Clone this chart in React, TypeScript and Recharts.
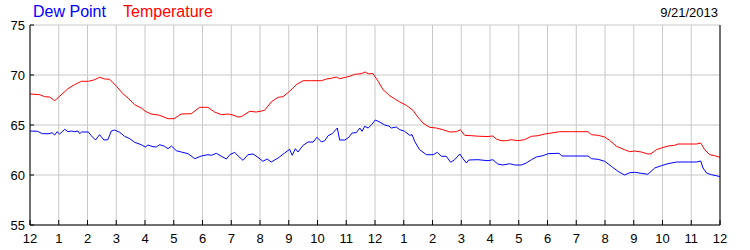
import React from 'react';
import { LineChart, Line, XAxis, YAxis, CartesianGrid } from 'recharts';

// hours since midnight
const tempTimes = [
  0, 0.34, 0.51, 0.68, 0.86, 1.03, 1.32, 1.55, 1.79, 2.03, 2.25, 2.42, 2.6, 2.77, 3.01, 3.23, 3.41, 3.64, 3.87, 4.01,
  4.22, 4.51, 4.8, 5.01, 5.26, 5.61, 5.9, 6.19, 6.42, 6.66, 6.89, 7.06, 7.24, 7.35, 7.64, 7.87, 8.05, 8.16, 8.39, 8.63,
  8.8, 9.03, 9.26, 9.5, 9.79, 10.14, 10.31, 10.48, 10.65, 10.77, 10.97, 11.12, 11.29, 11.52, 11.66, 11.76, 11.93, 12.11,
  12.28, 12.51, 12.68, 12.86, 13.09, 13.32, 13.49, 13.67, 13.9, 14.13, 14.36, 14.6, 14.83, 14.97, 15.12, 15.35, 15.64,
  15.93, 16.1, 16.22, 16.39, 16.57, 16.74, 16.97, 17.2, 17.44, 17.67, 17.9, 18.14, 18.42, 18.83, 19.41, 19.53, 19.76,
  19.99, 20.16, 20.4, 20.68, 20.86, 21.03, 21.26, 21.49, 21.6, 21.79, 21.96, 22.19, 22.42, 22.54, 22.89, 23.18, 23.33,
  23.47, 23.64, 23.82, 24,
];
const tempValues = [
  68.1, 68.03, 67.83, 67.8, 67.43, 67.87, 68.63, 69.03, 69.37, 69.37, 69.53, 69.77, 69.6, 69.57, 68.87, 68.13, 67.7,
  67.03, 66.7, 66.37, 66.1, 65.97, 65.63, 65.63, 66.1, 66.13, 66.77, 66.77, 66.3, 66.03, 66.1, 66.0, 65.8, 65.83, 66.37,
  66.3, 66.4, 66.47, 67.3, 67.77, 67.83, 68.37, 69.03, 69.43, 69.43, 69.43, 69.6, 69.67, 69.8, 69.63, 69.77, 69.87,
  70.07, 70.13, 70.3, 70.13, 70.13, 69.37, 68.53, 67.93, 67.63, 67.3, 66.97, 66.47, 65.8, 65.2, 64.77, 64.7, 64.53,
  64.3, 64.33, 64.53, 63.97, 63.93, 63.87, 63.85, 63.9, 63.6, 63.43, 63.43, 63.53, 63.43, 63.53, 63.87, 63.93, 64.1,
  64.2, 64.33, 64.33, 64.33, 64.03, 63.97, 63.8, 63.47, 62.87, 62.53, 62.33, 62.4, 62.3, 62.1, 62.13, 62.53, 62.7,
  62.9, 62.97, 63.1, 63.1, 63.1, 63.2, 62.53, 62.03, 61.93, 61.77,
];

const dewTimes = [
  0, 0.26, 0.43, 0.66, 0.77, 0.86, 0.94, 1.03, 1.21, 1.32, 1.44, 1.55, 1.67, 1.73, 1.79, 2.03, 2.13, 2.28, 2.42, 2.57,
  2.71, 2.83, 2.94, 3.12, 3.29, 3.47, 3.64, 3.87, 4.01, 4.1, 4.28, 4.39, 4.51, 4.68, 4.8, 4.92, 5.09, 5.26, 5.5, 5.73,
  5.96, 6.19, 6.31, 6.48, 6.66, 6.83, 6.95, 7.12, 7.24, 7.41, 7.58, 7.76, 7.93, 8.1, 8.25, 8.39, 8.63, 8.86, 9.03, 9.12,
  9.23, 9.32, 9.5, 9.67, 9.85, 9.98, 10.14, 10.25, 10.37, 10.51, 10.69, 10.77, 10.95, 11.09, 11.2, 11.35, 11.47, 11.55,
  11.64, 11.76, 11.88, 12.01, 12.16, 12.34, 12.48, 12.57, 12.74, 12.86, 13.03, 13.21, 13.29, 13.38, 13.55, 13.79, 14.02,
  14.17, 14.31, 14.48, 14.63, 14.77, 14.95, 15.06, 15.18, 15.26, 15.58, 15.93, 16.1, 16.27, 16.45, 16.68, 16.86, 17.09,
  17.26, 17.44, 17.61, 17.84, 18.02, 18.4, 18.5, 18.83, 19.41, 19.53, 19.76, 19.99, 20.22, 20.45, 20.68, 20.86, 21.03,
  21.26, 21.49, 21.73, 21.96, 22.19, 22.48, 22.89, 23.18, 23.33, 23.41, 23.53, 23.7, 23.87, 24,
];
const dewValues = [
  64.4, 64.37, 64.13, 64.13, 64.23, 64.0, 64.33, 64.1, 64.57, 64.33, 64.4, 64.33, 64.4, 64.13, 64.3, 64.3, 63.93, 63.5,
  64.03, 63.5, 63.53, 64.4, 64.5, 64.27, 63.87, 63.63, 63.27, 63.03, 62.8, 63.0, 62.83, 62.8, 63.03, 62.87, 62.63, 62.9,
  62.43, 62.3, 62.13, 61.63, 61.9, 62.03, 61.97, 62.17, 61.87, 61.6, 62.03, 62.27, 61.9, 61.47, 62.03, 62.1, 61.77,
  61.37, 61.6, 61.3, 61.7, 62.2, 62.57, 61.97, 62.63, 62.3, 62.97, 63.3, 63.3, 63.77, 63.3, 63.43, 63.93, 64.13, 64.7,
  63.5, 63.5, 63.77, 64.2, 64.23, 64.7, 64.37, 64.87, 64.7, 65.03, 65.5, 65.3, 65.0, 64.9, 64.7, 64.8, 64.53, 64.37,
  63.97, 64.03, 63.37, 62.53, 62.03, 62.03, 62.27, 61.87, 61.87, 61.27, 61.53, 62.1, 61.63, 61.2, 61.5, 61.53, 61.43,
  61.53, 61.1, 61.0, 61.13, 61.0, 61.0, 61.2, 61.53, 61.8, 61.93, 62.13, 62.17, 61.9, 61.9, 61.9, 61.63, 61.57, 61.37,
  60.87, 60.37, 60.0, 60.23, 60.27, 60.17, 60.07, 60.7, 60.93, 61.13, 61.3, 61.3, 61.3, 61.4, 60.7, 60.2, 60.03, 59.93,
  59.83,
];

const hourTicks = [0, 1, 2, 3, 4, 5, 6, 7, 8, 9, 10, 11, 12, 13, 14, 15, 16, 17, 18, 19, 20, 21, 22, 23, 24];
const hourLabels = ['12', '1', '2', '3', '4', '5', '6', '7', '8', '9', '10', '11', '12', '1', '2', '3', '4', '5', '6', '7', '8', '9', '10', '11', '12'];
const tempTicks = [55, 60, 65, 70, 75];
const dateLabel = '9/21/2013';

const tempData = tempTimes.map((t, i) => ({ t, v: tempValues[i] }));
const dewData = dewTimes.map((t, i) => ({ t, v: dewValues[i] }));

const FONT = '"Liberation Sans", Arial, sans-serif';

// ticks point into the plot, labels sit outside
const BottomTick = (props: any) => {
  const { x, y, payload } = props;
  return (
    <g>
      <line x1={x} y1={y} x2={x} y2={y - 5} stroke="#000" />
      <text x={x} y={y + 18} textAnchor="middle" fontSize={13} fill="#000">
        {hourLabels[payload.value]}
      </text>
    </g>
  );
};

const TopTick = (props: any) => {
  const { x, y } = props;
  return <line x1={x} y1={y} x2={x} y2={y + 5} stroke="#000" />;
};

const LeftTick = (props: any) => {
  const { x, y, payload } = props;
  return (
    <g>
      <line x1={x} y1={y} x2={x + 4} y2={y} stroke="#000" />
      <text x={x - 5} y={y + 4.5} textAnchor="end" fontSize={13} fill="#000">
        {payload.value}
      </text>
    </g>
  );
};

const RightTick = (props: any) => {
  const { x, y, payload } = props;
  return (
    <g>
      <line x1={x} y1={y} x2={x - 4} y2={y} stroke="#000" />
      <text x={x + 7} y={y + 4.5} textAnchor="start" fontSize={13} fill="#000">
        {payload.value}
      </text>
    </g>
  );
};

export default function App() {
  return (
    <div style={{ position: 'relative', width: 750, height: 250, fontFamily: FONT, background: '#fff' }}>
      <style>{'body{margin:0}'}</style>
      <div style={{ position: 'absolute', left: 33, top: 4, fontSize: 16, lineHeight: '16px', color: '#0000ff' }}>Dew Point</div>
      <div style={{ position: 'absolute', left: 123, top: 4, fontSize: 16, lineHeight: '16px', color: '#ff0000' }}>Temperature</div>
      <div style={{ position: 'absolute', right: 32, top: 6, fontSize: 13, lineHeight: '13px', color: '#000' }}>{dateLabel}</div>
      <LineChart width={750} height={250} margin={{ top: 25, right: 0, bottom: 0, left: 0 }}>
        <CartesianGrid stroke="#c8c8c8" strokeWidth={1} />
        <XAxis
          dataKey="t"
          type="number"
          domain={[0, 24]}
          ticks={hourTicks}
          interval={0}
          height={25}
          tickSize={0}
          tickMargin={0}
          axisLine={{ stroke: '#000' }}
          tickLine={false}
          tick={<BottomTick />}
          allowDataOverflow
        />
        <XAxis
          xAxisId="top"
          orientation="top"
          dataKey="t"
          type="number"
          domain={[0, 24]}
          ticks={hourTicks}
          interval={0}
          height={0}
          tickSize={0}
          tickMargin={0}
          axisLine={{ stroke: '#000' }}
          tickLine={false}
          tick={<TopTick />}
        />
        <YAxis
          type="number"
          domain={[55, 75]}
          ticks={tempTicks}
          interval={0}
          width={30}
          tickSize={0}
          tickMargin={0}
          axisLine={{ stroke: '#000' }}
          tickLine={false}
          tick={<LeftTick />}
        />
        <YAxis
          yAxisId="r"
          orientation="right"
          type="number"
          domain={[55, 75]}
          ticks={tempTicks}
          interval={0}
          width={30}
          tickSize={0}
          tickMargin={0}
          axisLine={{ stroke: '#000' }}
          tickLine={false}
          tick={<RightTick />}
        />
        <Line data={tempData} dataKey="v" type="linear" stroke="#ff0000" strokeWidth={1} dot={false} isAnimationActive={false} />
        <Line data={dewData} dataKey="v" type="linear" stroke="#0000ff" strokeWidth={1} dot={false} isAnimationActive={false} />
      </LineChart>
    </div>
  );
}
